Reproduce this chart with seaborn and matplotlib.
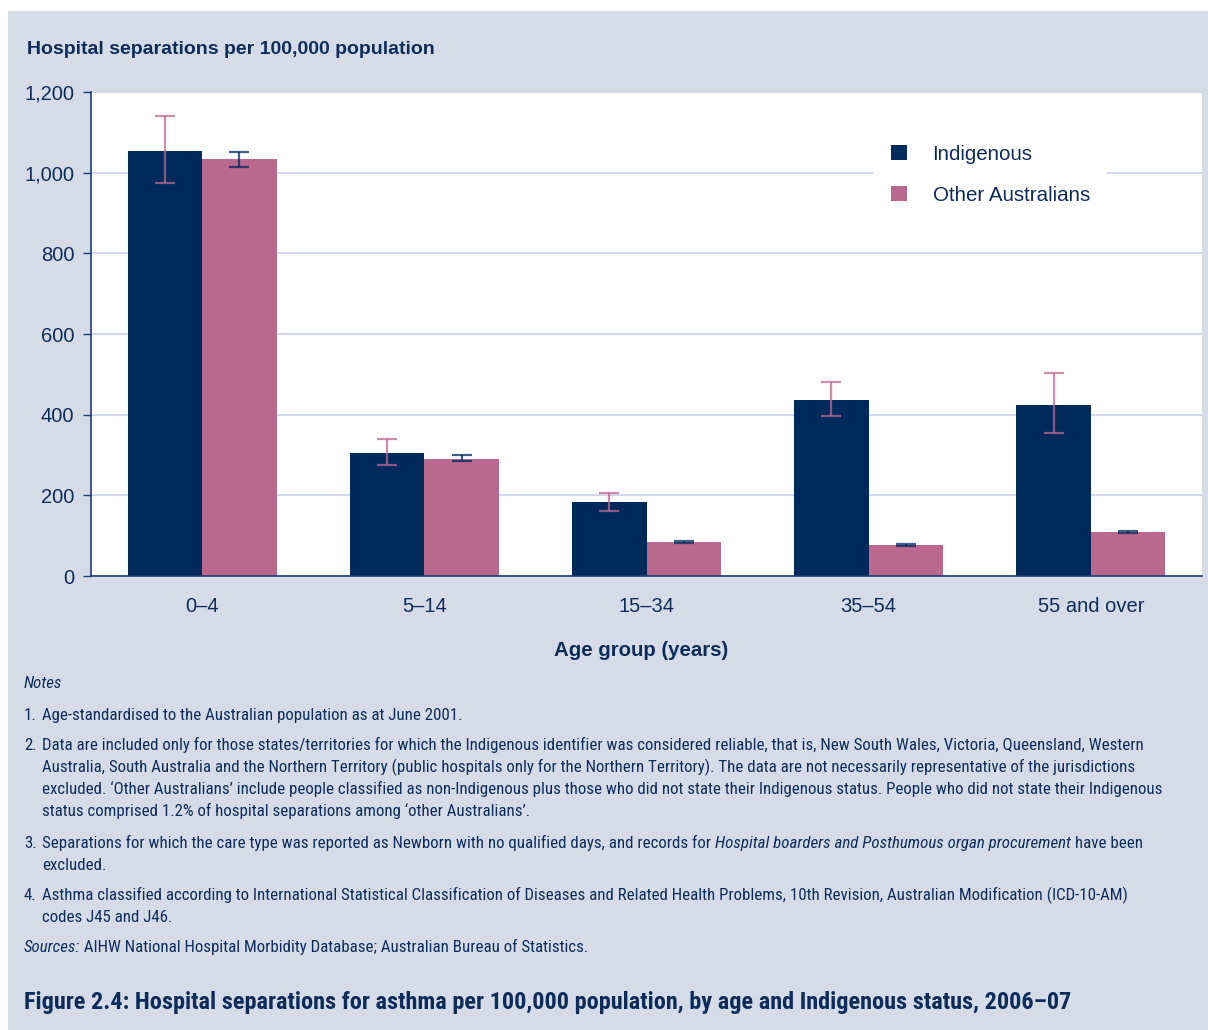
import matplotlib
matplotlib.use("Agg")
import matplotlib.pyplot as plt
from matplotlib import font_manager as fm
from matplotlib.patches import Rectangle, Patch
from matplotlib.ticker import FuncFormatter
import seaborn as sns
import pandas as pd
import numpy as np

# ---- data -------------------------------------------------------------
age_groups = ["0–4", "5–14", "15–34", "35–54", "55 and over"]
groups = ["Indigenous", "Other Australians"]
indigenous_rate = [1054, 305, 183, 436, 424]
indigenous_low = [974, 275, 161, 397, 355]
indigenous_high = [1141, 340, 206, 481, 503]
other_rate = [1034, 290, 84, 77, 109]
other_low = [1014, 285, 82, 74, 107]
other_high = [1051, 300, 87, 80, 112]
y_ticks = [0, 200, 400, 600, 800, 1000, 1200]

df = pd.DataFrame({
    "age": age_groups * 2,
    "group": [groups[0]] * len(age_groups) + [groups[1]] * len(age_groups),
    "rate": indigenous_rate + other_rate,
})

# ---- style ------------------------------------------------------------
NAVY = "#002a5c"
PINK = "#bb688f"
TEXT = "#0e2c5a"
PANEL = "#d5dce8"
GRID = "#d3d9ea"

sns.set_theme(style="white")
plt.rcParams["font.family"] = ["Liberation Sans", "DejaVu Sans"]

W, H = 1208, 1030
fig = plt.figure(figsize=(W / 100, H / 100), dpi=100)
fig.patch.set_facecolor("white")
fig.patches.append(Rectangle((8 / W, 0), 1 - 8 / W, 1 - 11 / H,
                             transform=fig.transFigure, facecolor=PANEL,
                             edgecolor="none", zorder=-10))

ax = fig.add_axes([91 / W, 1 - 576 / H, 1111 / W, 484 / H])
ax.set_facecolor("white")

sns.barplot(data=df, x="age", y="rate", hue="group", order=age_groups,
            hue_order=groups, palette=[NAVY, PINK], width=0.67,
            saturation=1, errorbar=None, linewidth=0, ax=ax, legend=False,
            zorder=2)

# confidence intervals: pink whiskers on navy bars, navy whiskers on pink bars
series = [
    (indigenous_rate, indigenous_low, indigenous_high, PINK),
    (other_rate, other_low, other_high, NAVY),
]
for container, (rate, low, high, col) in zip(ax.containers, series):
    xs = [b.get_x() + b.get_width() / 2 for b in container]
    rate = np.array(rate)
    yerr = [rate - np.array(low), np.array(high) - rate]
    ax.errorbar(xs, rate, yerr=yerr, fmt="none", ecolor=col, elinewidth=1.6,
                capsize=7.5, capthick=1.6, alpha=0.75, zorder=3)

ax.set_xlim(-0.5, 4.5)
ax.set_ylim(0, 1200)
ax.set_yticks(y_ticks)
ax.yaxis.set_major_formatter(FuncFormatter(lambda v, p: f"{int(v):,}"))
ax.yaxis.grid(True, color=GRID, lw=1.5)
ax.set_axisbelow(True)
ax.set_xlabel("")
ax.set_ylabel("")

for s in ("top", "right"):
    ax.spines[s].set_visible(False)
for s in ("left", "bottom"):
    ax.spines[s].set_color("#1d3d6e")
    ax.spines[s].set_linewidth(1.2)

ax.tick_params(axis="y", length=6, width=1, color="#1d3d6e", direction="out",
               pad=6, labelsize=14.5, labelcolor=TEXT, left=True)
ax.tick_params(axis="x", length=0, pad=15, labelsize=14.5, labelcolor=TEXT)

handles = [Patch(facecolor=NAVY, edgecolor="none"),
           Patch(facecolor=PINK, edgecolor="none")]
leg = ax.legend(handles, groups, loc="upper left", bbox_to_anchor=(0.704, 0.928),
                frameon=True, facecolor="white", edgecolor="none", framealpha=1,
                fancybox=False, fontsize=14.8, handlelength=0.78, handleheight=0.78,
                handletextpad=1.25, labelspacing=1.07, borderpad=0.86,
                borderaxespad=0, labelcolor=TEXT)

fig.text(27 / W, 1 - 49 / H, "Hospital separations per 100,000 population",
         fontsize=14, fontweight="bold", color=TEXT, ha="left", va="center")
fig.text(641 / W, 1 - 650 / H, "Age group (years)", fontsize=14.7,
         fontweight="bold", color=TEXT, ha="center", va="center")

# ---- notes and caption -------------------------------------------------
names = {f.name for f in fm.fontManager.ttflist}
narrow = None
for cand in ["Roboto Condensed", "Liberation Sans Narrow", "Open Sans Condensed"]:
    if cand in names:
        narrow = cand
        break
note_family = [narrow, "DejaVu Sans"] if narrow else ["Liberation Sans", "DejaVu Sans"]

renderer = fig.canvas.get_renderer()


def text_width(s, size, weight="normal", style="normal"):
    t = fig.text(0, 0, s, fontsize=size, family=note_family, weight=weight,
                 style=style)
    w = t.get_window_extent(renderer).width
    t.remove()
    return w


def draw_line(x_px, base_px, segments, size, weight="normal"):
    x = x_px
    for s, style in segments:
        t = fig.text(x / W, 1 - base_px / H, s, fontsize=size, family=note_family,
                     weight=weight, style=style, color=TEXT, ha="left",
                     va="baseline")
        x = t.get_window_extent(renderer).x1


line2a = ("Data are included only for those states/territories for which the "
          "Indigenous identifier was considered reliable, that is, New South "
          "Wales, Victoria, Queensland, Western")
note_size = 12.8
note_size = min(note_size, note_size * 1100 / text_width(line2a, note_size))

caption = ("Figure 2.4: Hospital separations for asthma per 100,000 population, "
           "by age and Indigenous status, 2006–07")
cap_size = 18.5
cap_size = min(cap_size, cap_size * 1049 / text_width(caption, cap_size, weight="bold"))

N = "normal"
I = "italic"
num_x, txt_x = 24, 42
notes = [
    (24, 688, [("Notes", I)]),
    (num_x, 720, [("1.", N)]),
    (txt_x, 720, [("Age-standardised to the Australian population as at June 2001.", N)]),
    (num_x, 750, [("2.", N)]),
    (txt_x, 750, [(line2a, N)]),
    (txt_x, 772, [("Australia, South Australia and the Northern Territory (public hospitals "
                   "only for the Northern Territory). The data are not necessarily "
                   "representative of the jurisdictions", N)]),
    (txt_x, 794, [("excluded. ‘Other Australians’ include people classified as "
                   "non-Indigenous plus those who did not state their Indigenous status. "
                   "People who did not state their Indigenous", N)]),
    (txt_x, 816, [("status comprised 1.2% of hospital separations among "
                   "‘other Australians’.", N)]),
    (num_x, 848, [("3.", N)]),
    (txt_x, 848, [("Separations for which the care type was reported as Newborn with no "
                   "qualified days, and records for ", N),
                  ("Hospital boarders and Posthumous organ procurement", I),
                  (" have been", N)]),
    (txt_x, 870, [("excluded.", N)]),
    (num_x, 900, [("4.", N)]),
    (txt_x, 900, [("Asthma classified according to International Statistical "
                   "Classification of Diseases and Related Health Problems, 10th "
                   "Revision, Australian Modification (ICD-10-AM)", N)]),
    (txt_x, 922, [("codes J45 and J46.", N)]),
    (24, 952, [("Sources:", I),
               (" AIHW National Hospital Morbidity Database; Australian Bureau "
                "of Statistics.", N)]),
]
for x0, base, segs in notes:
    draw_line(x0, base, segs, note_size)

draw_line(24, 1009, [(caption, N)], cap_size, weight="bold")

fig.savefig("out.png", dpi=100, facecolor=fig.get_facecolor())
